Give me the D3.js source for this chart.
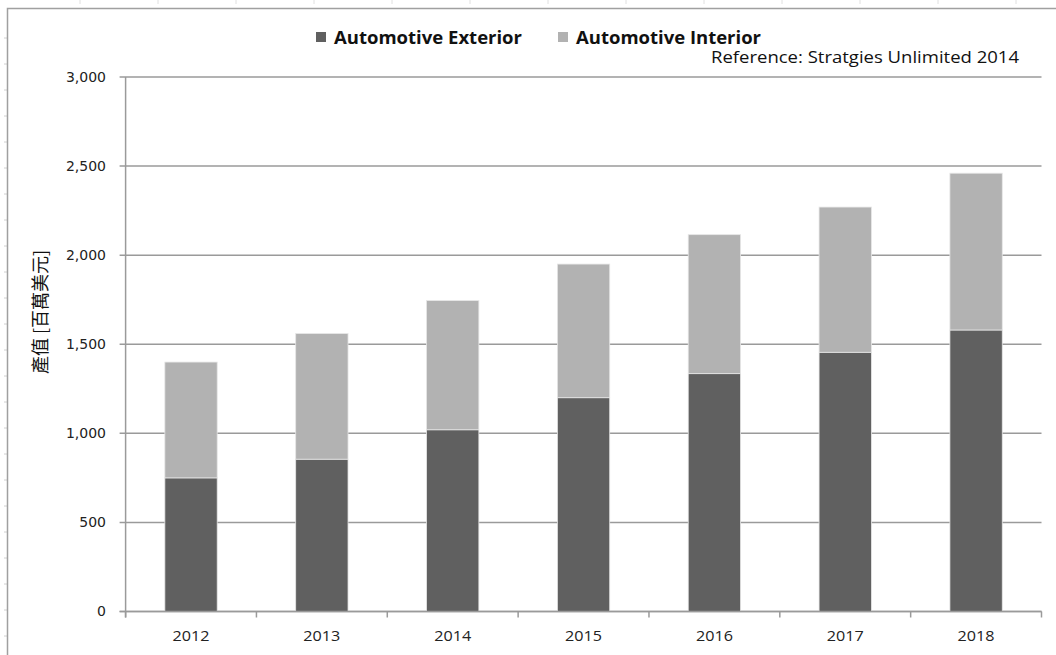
<!DOCTYPE html>
<html>
<head>
<meta charset="utf-8">
<script src="https://cdn.jsdelivr.net/npm/d3@7"></script>
<style>
  body { margin: 0; background: #fff; }
  text { font-family: "Open Sans", "Noto Sans", sans-serif; }
</style>
</head>
<body>
<script>
var w = 1056;
var h = 655;

var years = ["2012", "2013", "2014", "2015", "2016", "2017", "2018"];
var exterior = [750, 855, 1020, 1200, 1335, 1455, 1580];
var interior = [650, 705, 725, 750, 780, 815, 880];
var yTicks = [0, 500, 1000, 1500, 2000, 2500, 3000];
var seriesNames = ["Automotive Exterior", "Automotive Interior"];
var seriesColors = ["#606060", "#b2b2b2"];

var plotLeft = 125.6, plotRight = 1041.5, plotTop = 77, plotBottom = 611.5;

var rows = years.map(function (y, i) {
    return { year: y, ext: exterior[i], int: interior[i] };
});

var xScale = d3.scaleBand()
    .domain(years)
    .range([plotLeft, plotRight])
    .paddingInner(0.6)
    .paddingOuter(0.3);

var yScale = d3.scaleLinear()
    .domain([0, 3000])
    .range([plotBottom, plotTop]);

var svg = d3.select("body")
    .append("svg")
    .attr("width", w)
    .attr("height", h);

// sheet border with faint row / column marks
svg.selectAll("line.rowmark")
    .data(d3.range(38, h, 26))
    .enter()
    .append("line")
    .attr("x1", 4).attr("x2", 7)
    .attr("y1", function (d) { return d; })
    .attr("y2", function (d) { return d; })
    .attr("stroke", "#d0d0d0");

svg.selectAll("line.colmark")
    .data(d3.range(80, w, 78))
    .enter()
    .append("line")
    .attr("x1", function (d) { return d; })
    .attr("x2", function (d) { return d; })
    .attr("y1", 0).attr("y2", 4)
    .attr("stroke", "#e0e0e0");

svg.append("path")
    .attr("d", "M7.5," + h + "V8.5H" + w)
    .attr("fill", "none")
    .attr("stroke", "#a0a0a0")
    .attr("stroke-width", 1.5);

// gridlines
svg.selectAll("line.grid")
    .data(yTicks)
    .enter()
    .append("line")
    .attr("class", "grid")
    .attr("x1", plotLeft - 6)
    .attr("x2", plotRight)
    .attr("y1", function (d) { return yScale(d); })
    .attr("y2", function (d) { return yScale(d); })
    .attr("stroke", "#9a9a9a")
    .attr("stroke-width", 1.5);

// y tick labels
svg.selectAll("text.ytick")
    .data(yTicks)
    .enter()
    .append("text")
    .attr("class", "ytick")
    .attr("x", 106)
    .attr("y", function (d) { return yScale(d); })
    .attr("dy", "0.35em")
    .attr("text-anchor", "end")
    .style("font-family", "'DejaVu Sans', sans-serif")
    .style("font-size", "14px")
    .style("fill", "#222")
    .text(function (d) { return d3.format(",")(d); });

// stacked bars
var stack = d3.stack().keys(["ext", "int"]);
var layers = stack(rows);

svg.selectAll("g.layer")
    .data(layers)
    .enter()
    .append("g")
    .attr("class", "layer")
    .attr("fill", function (d, i) { return seriesColors[i]; })
    .selectAll("rect")
    .data(function (d) { return d; })
    .enter()
    .append("rect")
    .attr("x", function (d) { return xScale(d.data.year); })
    .attr("width", xScale.bandwidth())
    .attr("y", function (d) { return yScale(d[1]); })
    .attr("height", function (d) { return yScale(d[0]) - yScale(d[1]); })
    .attr("stroke", "#e6e6e6")
    .attr("stroke-width", 0.8);

// axes lines
svg.append("line")
    .attr("x1", plotLeft).attr("x2", plotLeft)
    .attr("y1", plotTop).attr("y2", plotBottom + 6)
    .attr("stroke", "#9a9a9a")
    .attr("stroke-width", 1.5);

svg.append("line")
    .attr("x1", plotLeft - 6).attr("x2", plotRight)
    .attr("y1", plotBottom).attr("y2", plotBottom)
    .attr("stroke", "#9a9a9a")
    .attr("stroke-width", 1.5);

var bounds = d3.range(years.length + 1).map(function (i) {
    return plotLeft + i * (plotRight - plotLeft) / years.length;
});
svg.selectAll("line.xtick")
    .data(bounds)
    .enter()
    .append("line")
    .attr("class", "xtick")
    .attr("x1", function (d) { return d; })
    .attr("x2", function (d) { return d; })
    .attr("y1", plotBottom)
    .attr("y2", plotBottom + 6)
    .attr("stroke", "#9a9a9a")
    .attr("stroke-width", 1.5);

svg.selectAll("text.xlab")
    .data(years)
    .enter()
    .append("text")
    .attr("class", "xlab")
    .attr("x", function (d) { return xScale(d) + xScale.bandwidth() / 2; })
    .attr("y", 641)
    .attr("text-anchor", "middle")
    .attr("textLength", 37)
    .attr("lengthAdjust", "spacingAndGlyphs")
    .style("font-size", "15px")
    .style("fill", "#222")
    .text(function (d) { return d; });

// y axis title
svg.append("text")
    .attr("transform", "translate(47,312) rotate(-90)")
    .attr("text-anchor", "middle")
    .style("font-family", "'Noto Sans CJK TC', sans-serif")
    .style("font-size", "18px")
    .style("fill", "#111")
    .text("產值 [百萬美元]");

// legend
var legendX = [316, 558];
var legendW = [188, 185];
var lg = svg.selectAll("g.legend")
    .data(seriesNames)
    .enter()
    .append("g")
    .attr("class", "legend")
    .attr("transform", function (d, i) { return "translate(" + legendX[i] + ",0)"; });

lg.append("rect")
    .attr("x", 0)
    .attr("y", 32)
    .attr("width", 10)
    .attr("height", 10)
    .attr("fill", function (d, i) { return seriesColors[i]; });

lg.append("text")
    .attr("x", 18)
    .attr("y", 44)
    .attr("textLength", function (d, i) { return legendW[i]; })
    .attr("lengthAdjust", "spacingAndGlyphs")
    .style("font-size", "17px")
    .style("font-weight", "bold")
    .style("fill", "#111")
    .text(function (d) { return d; });

svg.append("text")
    .attr("x", 711)
    .attr("y", 63)
    .attr("textLength", 308)
    .attr("lengthAdjust", "spacingAndGlyphs")
    .style("font-size", "15.5px")
    .style("fill", "#111")
    .text("Reference: Stratgies Unlimited 2014");
</script>
</body>
</html>
